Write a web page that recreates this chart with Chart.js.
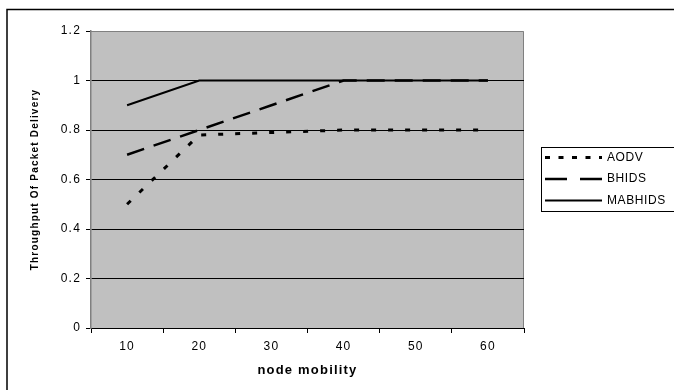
<!DOCTYPE html>
<html>
<head>
<meta charset="utf-8">
<style>
  html, body { margin: 0; padding: 0; background: #fff; }
  canvas { display: block; }
</style>
<script src="https://cdn.jsdelivr.net/npm/chart.js@4.4.1/dist/chart.umd.min.js"></script>
</head>
<body>
<canvas id="chart" width="674" height="390"></canvas>
<script>
const categories = ["10", "20", "30", "40", "50", "60"];
const aodv = [0.5, 0.78, 0.79, 0.8, 0.8, 0.8];
const bhids = [0.7, 0.8, 0.9, 1, 1, 1];
const mabhids = [0.9, 1, 1, 1, 1, 1];
const yTickLabels = ["0", "0.2", "0.4", "0.6", "0.8", "1", "1.2"];

Chart.defaults.font.family = '"Liberation Sans", Arial, sans-serif';
Chart.defaults.color = "#000";

// white page, frame, grey plot area
const backdrop = {
    id: "backdrop",
    beforeDraw(chart) {
        const ctx = chart.ctx;
        const a = chart.chartArea;
        ctx.letterSpacing = "1.2px";
        ctx.save();
        ctx.fillStyle = "#fff";
        ctx.fillRect(0, 0, chart.width, chart.height);
        ctx.strokeStyle = "#000";
        ctx.lineWidth = 1.5;
        ctx.strokeRect(7, 9.5, 720, 420);
        ctx.fillStyle = "#c0c0c0";
        ctx.fillRect(a.left, a.top, a.right - a.left, a.bottom - a.top);
        ctx.strokeStyle = "#808080";
        ctx.lineWidth = 1;
        ctx.beginPath();
        ctx.moveTo(a.left, a.top + 0.5);
        ctx.lineTo(a.right - 0.5, a.top + 0.5);
        ctx.lineTo(a.right - 0.5, a.bottom);
        ctx.stroke();
        ctx.restore();
    }
};

// boxed legend to the right of the plot
const boxLegend = {
    id: "boxLegend",
    afterDraw(chart) {
        const ctx = chart.ctx;
        const x0 = chart.chartArea.right + 17;
        const y0 = 147;
        ctx.save();
        ctx.strokeStyle = "#000";
        ctx.lineWidth = 1;
        ctx.strokeRect(x0 + 0.5, y0 + 0.5, 150, 64);
        ctx.font = '12px "Liberation Sans", Arial, sans-serif';
        ctx.letterSpacing = "0.6px";
        ctx.textBaseline = "middle";
        ctx.fillStyle = "#000";
        chart.data.datasets.forEach((ds, i) => {
            const y = y0 + 10.5 + i * 21.5;
            ctx.save();
            ctx.setLineDash(ds.legendDash || ds.borderDash || []);
            ctx.lineWidth = ds.borderWidth;
            ctx.lineCap = "butt";
            ctx.beginPath();
            ctx.moveTo(x0 + 4, y);
            ctx.lineTo(x0 + 61, y);
            ctx.stroke();
            ctx.restore();
            ctx.fillText(ds.label, x0 + 66, y);
        });
        ctx.restore();
    }
};

new Chart(document.getElementById("chart"), {
    type: "line",
    data: {
        labels: categories,
        datasets: [
            { label: "AODV", data: aodv, borderColor: "#000", borderWidth: 3, borderDash: [5, 12], legendDash: [5, 8.5] },
            { label: "BHIDS", data: bhids, borderColor: "#000", borderWidth: 2.5, borderDash: [18, 10], legendDash: [22, 13] },
            { label: "MABHIDS", data: mabhids, borderColor: "#000", borderWidth: 2 }
        ]
    },
    options: {
        responsive: false,
        animation: false,
        devicePixelRatio: 1,
        layout: { padding: { top: 31, right: 150, left: 0, bottom: 0 } },
        elements: { point: { radius: 0 }, line: { tension: 0, borderCapStyle: "butt" } },
        plugins: { legend: { display: false }, tooltip: { enabled: false } },
        scales: {
            x: {
                offset: true,
                afterFit(s) { s.height = 62; },
                grid: { offset: true, drawOnChartArea: false, tickLength: 5, tickColor: "#000" },
                border: { color: "#000", width: 1 },
                ticks: { padding: 6, font: { size: 12 } },
                title: {
                    display: true,
                    text: "node mobility",
                    font: { size: 13, weight: "bold" },
                    padding: { top: 0, bottom: 12 }
                }
            },
            y: {
                min: 0,
                max: 1.2,
                afterFit(s) { s.width = 91; },
                grid: {
                    color: c => (c.tick && c.tick.value > 1.1) ? "rgba(0,0,0,0)" : "#000",
                    tickColor: "#000",
                    tickLength: 5
                },
                border: { color: "#808080", width: 1.5 },
                ticks: {
                    stepSize: 0.2,
                    padding: 5,
                    font: { size: 12 },
                    callback: (v, i) => yTickLabels[i]
                },
                title: {
                    display: true,
                    text: "Throughput Of Packet Delivery",
                    font: { size: 10, weight: "bold" },
                    padding: { top: 29, bottom: 0 }
                }
            }
        }
    },
    plugins: [backdrop, boxLegend]
});
</script>
</body>
</html>
